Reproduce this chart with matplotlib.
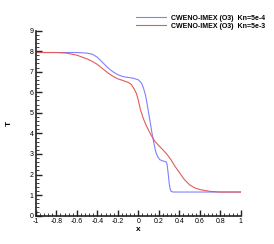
import matplotlib
matplotlib.use("Agg")
import matplotlib.pyplot as plt
from matplotlib.ticker import MultipleLocator

plt.rcParams["font.family"] = ["Liberation Sans", "DejaVu Sans"]

# Kn = 5e-4
x_fine = [-1.0, -0.6, -0.5, -0.45, -0.4, -0.35, -0.3, -0.25, -0.2, -0.15, -0.1,
          -0.05, 0.0, 0.03, 0.05, 0.07, 0.09, 0.11, 0.13, 0.15, 0.17, 0.19, 0.21,
          0.24, 0.27, 0.28, 0.29, 0.30, 0.31, 0.32, 0.34, 0.5, 1.0]
t_fine = [7.93, 7.93, 7.9, 7.85, 7.7, 7.45, 7.2, 7.0, 6.85, 6.76, 6.72,
          6.68, 6.6, 6.45, 6.2, 5.85, 5.3, 4.7, 4.1, 3.55, 3.1, 2.85, 2.72,
          2.66, 2.62, 2.5, 2.1, 1.6, 1.3, 1.18, 1.15, 1.15, 1.15]

# Kn = 5e-3
x_coarse = [-1.0, -0.8, -0.7, -0.6, -0.5, -0.45, -0.4, -0.35, -0.3, -0.25, -0.2,
            -0.15, -0.1, -0.07, -0.04, -0.02, 0.0, 0.02, 0.05, 0.08, 0.12, 0.16,
            0.2, 0.24, 0.28, 0.32, 0.36, 0.4, 0.45, 0.5, 0.55, 0.6, 0.7, 0.8, 1.0]
t_coarse = [7.93, 7.93, 7.9, 7.8, 7.62, 7.5, 7.35, 7.15, 6.95, 6.78, 6.65,
            6.57, 6.48, 6.38, 6.15, 5.95, 5.6, 5.15, 4.7, 4.35, 3.95, 3.62,
            3.4, 3.2, 2.98, 2.7, 2.38, 2.1, 1.75, 1.5, 1.35, 1.27, 1.18, 1.15, 1.15]

labels = ["CWENO-IMEX (O3)  Kn=5e-4", "CWENO-IMEX (O3)  Kn=5e-3"]

fig = plt.figure(figsize=(2.74, 2.44), dpi=100)
ax = fig.add_axes([0.131, 0.116, 0.748, 0.759])

ax.plot(x_fine, t_fine, color="#8080ff", lw=0.8, label=labels[0])
ax.plot(x_coarse, t_coarse, color="#e55a5a", lw=0.8, label=labels[1])

ax.set_xlim(-1, 1)
ax.set_ylim(0, 9)
ax.xaxis.set_major_locator(MultipleLocator(0.2))
ax.xaxis.set_minor_locator(MultipleLocator(0.04))
ax.yaxis.set_major_locator(MultipleLocator(1))
ax.yaxis.set_minor_locator(MultipleLocator(0.2))
ax.set_xticks([-1, -0.8, -0.6, -0.4, -0.2, 0, 0.2, 0.4, 0.6, 0.8, 1])
ax.set_xticklabels(["-1", "-0.8", "-0.6", "-0.4", "-0.2", "0", "0.2", "0.4", "0.6", "0.8", "1"])

for side in ["top", "right"]:
    ax.spines[side].set_visible(False)
for side in ["left", "bottom"]:
    ax.spines[side].set_linewidth(1.2)
    ax.spines[side].set_color("#222222")

ax.tick_params(which="both", direction="in", labelsize=5, pad=1.5, color="#222222")
ax.tick_params(which="major", length=4, width=1.0)
ax.tick_params(which="minor", length=2, width=0.6)

ax.set_xlabel("x", fontsize=6, fontweight="bold", labelpad=1)
ax.set_ylabel("T", fontsize=6, fontweight="bold", labelpad=12)

leg = ax.legend(loc="upper left", bbox_to_anchor=(0.49, 1.085), frameon=False,
                fontsize=5, handlelength=4.3, handletextpad=0.7, labelspacing=0.15,
                borderaxespad=0, borderpad=0)
for t in leg.get_texts():
    t.set_fontweight("bold")

fig.savefig("out.png", dpi=100)
